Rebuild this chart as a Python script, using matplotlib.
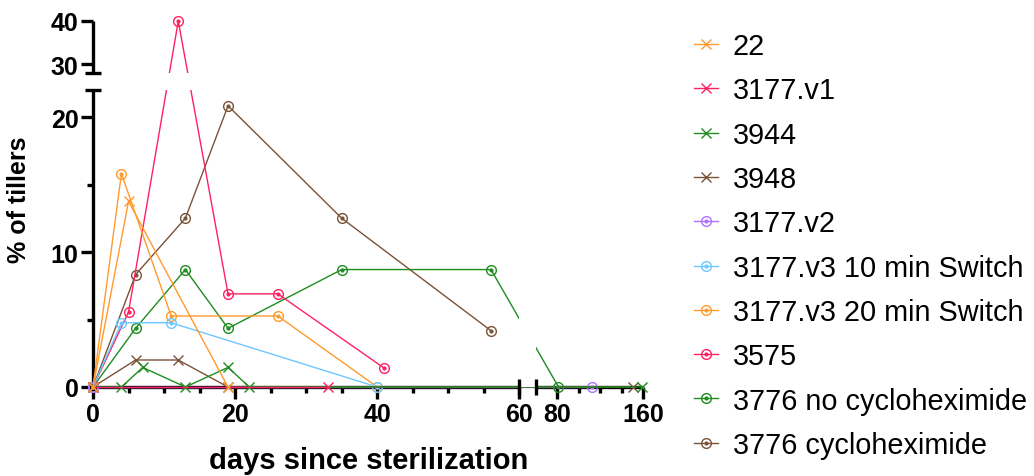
import numpy as np
import matplotlib
matplotlib.use("Agg")
import matplotlib.pyplot as plt
from matplotlib.ticker import FixedLocator, NullFormatter
from matplotlib.lines import Line2D

plt.rcParams['font.family'] = ['Liberation Sans', 'DejaVu Sans']

# ---- data ----
labels = ["22", "3177.v1", "3944", "3948", "3177.v2",
          "3177.v3 10 min Switch", "3177.v3 20 min Switch", "3575",
          "3776 no cycloheximide", "3776 cycloheximide"]

d_22 = [0, 5, 19];                y_22 = [0, 13.75, 0]
d_v1 = [0, 33];                   y_v1 = [0, 0]
d_3944 = [0, 4, 7, 13, 19, 22, 159]; y_3944 = [0, 0, 1.45, 0, 1.45, 0, 0]
d_3948 = [0, 6, 12, 19, 150];     y_3948 = [0, 2.0, 2.0, 0, 0]
d_v2 = [0, 112];                  y_v2 = [0, 0]
d_v3a = [0, 4, 11, 40];           y_v3a = [0, 4.76, 4.76, 0]
d_v3b = [0, 4, 11, 26, 40];       y_v3b = [0, 15.8, 5.26, 5.26, 0]
d_3575 = [0, 5, 12, 19, 26, 41];  y_3575 = [0, 5.56, 40, 6.9, 6.9, 1.39]
d_no = [0, 6, 13, 19, 35, 56, 81]; y_no = [0, 4.35, 8.7, 4.35, 8.7, 8.7, 0]
d_cy = [0, 6, 13, 19, 35, 56];    y_cy = [0, 8.33, 12.5, 20.83, 12.5, 4.17]

days = [d_22, d_v1, d_3944, d_3948, d_v2, d_v3a, d_v3b, d_3575, d_no, d_cy]
vals = [y_22, y_v1, y_3944, y_3948, y_v2, y_v3a, y_v3b, y_3575, y_no, y_cy]
colors = ["#FF9A2E", "#FF2062", "#1E8C1E", "#7A5238", "#B070FF",
          "#6CC8FF", "#FF9A2E", "#FF2062", "#1E8C1E", "#7A5238"]
markers = ["x", "x", "x", "x", "o", "o", "o", "o", "o", "o"]

# ---- broken axes as piecewise linear scales ----
X_BRK = 60.0           # left part 0-60, right part 60-160
GX, KX = 2.32, 0.1514  # gap and compression of right part
Y_LO, Y_HI = 22.0, 28.0
GY, KY = 1.26, 0.321


def fwd_x(x):
    x = np.asarray(x, float)
    return np.where(x <= X_BRK, x, X_BRK + GX + (x - X_BRK) * KX)


def inv_x(u):
    u = np.asarray(u, float)
    return np.where(u <= X_BRK, u,
                    np.where(u < X_BRK + GX, X_BRK, X_BRK + (u - X_BRK - GX) / KX))


def fwd_y(v):
    v = np.asarray(v, float)
    mid = Y_LO + (v - Y_LO) / (Y_HI - Y_LO) * GY
    return np.where(v <= Y_LO, v, np.where(v < Y_HI, mid, Y_LO + GY + (v - Y_HI) * KY))


def inv_y(u):
    u = np.asarray(u, float)
    mid = Y_LO + (u - Y_LO) / GY * (Y_HI - Y_LO)
    return np.where(u <= Y_LO, u,
                    np.where(u < Y_LO + GY, mid, Y_HI + (u - Y_LO - GY) / KY))


fig = plt.figure(figsize=(10.34, 4.77), dpi=100)
ax = fig.add_axes([93 / 1034, 89 / 477, 550.5 / 1034, 366 / 477])
ax.set_xscale('function', functions=(fwd_x, inv_x))
ax.set_yscale('function', functions=(fwd_y, inv_y))
ax.set_xlim(0, 160)
ax.set_ylim(0, 40)
for s in ax.spines.values():
    s.set_visible(False)

# white bands where the axes are broken (lines get cut there)
ax.axvspan(X_BRK, X_BRK + 0.001, color='white', lw=0, zorder=40)
ax.axhspan(Y_LO, Y_HI, color='white', lw=0, zorder=40)

# axis lines in segments, with end caps
AXW = 2.4
ax.plot([0, 60], [0, 0], color='k', lw=AXW, clip_on=False, zorder=1, solid_capstyle='butt')
ax.plot([60.001, 160], [0, 0], color='k', lw=AXW, clip_on=False, zorder=1, solid_capstyle='butt')
ax.plot([0, 0], [0, 22], color='k', lw=AXW, clip_on=False, zorder=1, solid_capstyle='butt')
ax.plot([0, 0], [28, 40], color='k', lw=AXW, clip_on=False, zorder=1, solid_capstyle='butt')
ax.plot([60, 60.001], [0, 0], ls='none', marker='|', ms=11, mew=AXW, color='k',
        clip_on=False, zorder=50)
ax.plot([0, 0], [22, 28], ls='none', marker='_', ms=11, mew=AXW, color='k',
        clip_on=False, zorder=50)

# ticks
ax.xaxis.set_major_locator(FixedLocator([0, 20, 40, 60, 80, 160]))
ax.xaxis.set_minor_locator(FixedLocator([5, 10, 15, 25, 30, 35, 45, 50, 55, 100, 120, 140]))
ax.yaxis.set_major_locator(FixedLocator([0, 10, 20, 30, 40]))
ax.yaxis.set_minor_locator(FixedLocator([5, 15]))
ax.xaxis.set_minor_formatter(NullFormatter())
ax.yaxis.set_minor_formatter(NullFormatter())
ax.set_xticklabels(["0", "20", "40", "60", "80", "160"])
ax.set_yticklabels(["0", "10", "20", "30", "40"])
ax.tick_params(which='major', direction='out', length=8.5, width=AXW, labelsize=18, pad=2)
ax.tick_params(which='minor', direction='out', length=4.5, width=AXW)
for t in ax.get_xticklabels() + ax.get_yticklabels():
    t.set_fontweight('bold')

# data: first series ends up on top
handles = []
n = len(labels)
for i in range(n):
    c = colors[i]
    z = 3 + (n - i) * 0.1
    if markers[i] == 'x':
        ln, = ax.plot(days[i], vals[i], color=c, lw=1.0, marker='x', ms=7, mew=1.0,
                      clip_on=False, zorder=z)
        handles.append(ln)
    else:
        ln, = ax.plot(days[i], vals[i], color=c, lw=1.0, marker='o', ms=7, mew=1.0,
                      mfc='none', clip_on=False, zorder=z)
        ax.plot(days[i], vals[i], ls='none', marker='o', ms=2, color=c, clip_on=False, zorder=z)
        dot = Line2D([], [], ls='none', marker='o', ms=2, color=c)
        handles.append((ln, dot))

ax.set_xlabel("days since sterilization", fontsize=21, fontweight='bold')
ax.xaxis.set_label_coords(0.5, -0.16)
ax.set_ylabel("% of tillers", fontsize=18, fontweight='bold')
ax.yaxis.set_label_coords(-0.112, 0.515)

fig.legend(handles, labels, loc='upper left', bbox_to_anchor=(694 / 1034, 1 - 33 / 477),
           frameon=False, fontsize=20.8, handlelength=0.83, handletextpad=0.52,
           labelspacing=0.565, borderaxespad=0, borderpad=0)

fig.savefig("out.png", dpi=100)
